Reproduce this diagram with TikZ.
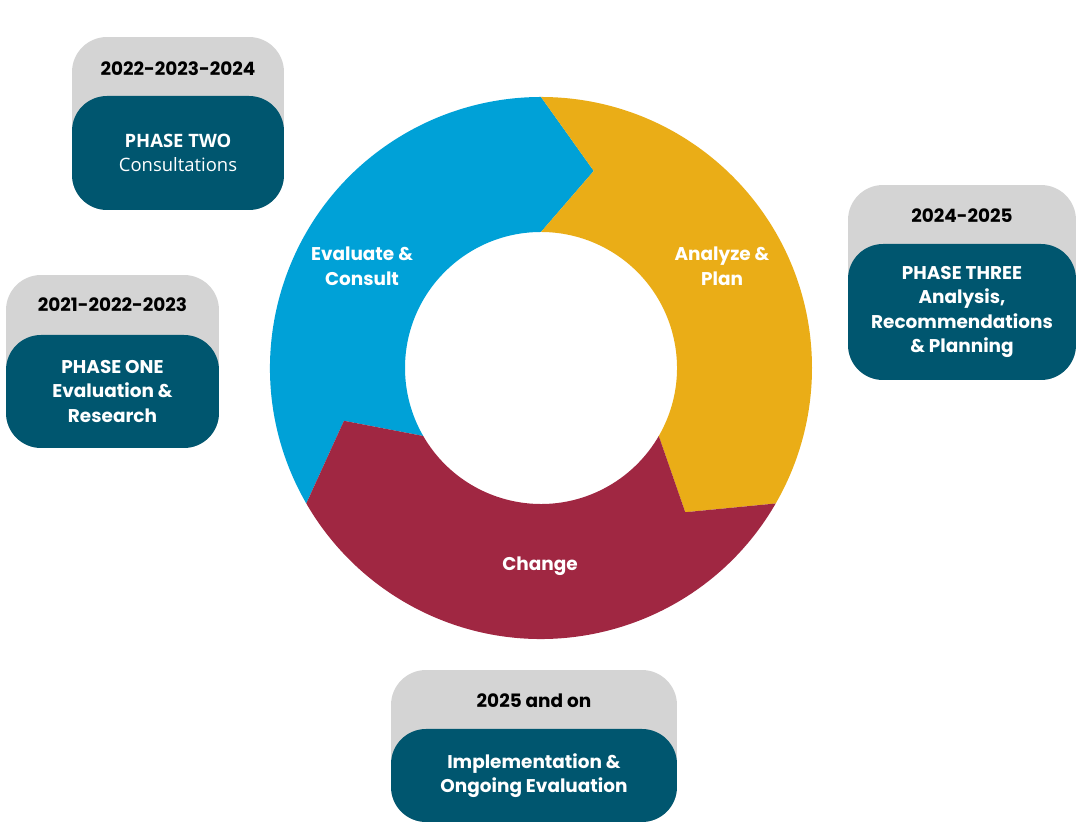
\documentclass[tikz,border=0pt]{standalone}
\usepackage{fontspec}
\setmainfont{Poppins}
\newfontfamily\opensans{Open Sans}
\usetikzlibrary{positioning}
\definecolor{ringblue}{HTML}{00A1D7}
\definecolor{ringgold}{HTML}{EAAD17}
\definecolor{ringred}{HTML}{A02742}
\definecolor{phaseteal}{HTML}{00566F}
\definecolor{yeargrey}{HTML}{D4D4D4}
\newcommand\ringpart[3]{%
  \fill[#1] (#3:271) arc[start angle=#3,end angle=#2,radius=271]
    -- (#2-15:204) -- (#2:136) arc[start angle=#2,end angle=#3,radius=136]
    -- (#3-15:204) -- cycle;}
\tikzset{
  yearbox/.style={fill=yeargrey, rounded corners=0.7cm, inner sep=0pt},
  phasebox/.style={fill=phaseteal, rounded corners=0.7cm, text=white, align=center,
    font=\fontsize{10.5}{14}\selectfont\bfseries, inner sep=0pt},
  yeartext/.style={font=\fontsize{10.5}{13}\selectfont\bfseries, text=black},
  ringtext/.style={font=\fontsize{10.5}{14}\selectfont\bfseries, text=white, align=center}
}
\begin{document}
\begin{tikzpicture}[x=0.02cm,y=0.02cm]
    \useasboundingbox (0,0) rectangle (1080,834);

    % ring
    \begin{scope}[shift={(541,466)}]
      \ringpart{ringblue}{90}{210}
      \ringpart{ringgold}{-30}{90}
      \ringpart{ringred}{-150}{-30}
    \end{scope}
    \node[ringtext] (eval)   at (362,568) {Evaluate \&\\Consult};
    \node[ringtext] (plan)   at (722,568) {Analyze \&\\Plan};
    \node[ringtext] (change) at (540,268) {Change};

    % phase two
    \node[yearbox, minimum width=4.24cm, minimum height=3.46cm] (g2) at (178,710.5) {};
    \node[phasebox, minimum width=4.24cm, minimum height=2.28cm] (p2) at (178,681)
      {\opensans\bfseries PHASE TWO\\\opensans\mdseries Consultations};
    \node[yeartext] (y2) at (178,765) {2022-2023-2024};

    % phase one
    \node[yearbox, minimum width=4.26cm, minimum height=3.46cm] (g1) at (112.5,472.5) {};
    \node[phasebox, minimum width=4.26cm, minimum height=2.26cm] (p1) at (112.5,442.5)
      {PHASE ONE\\Evaluation \&\\Research};
    \node[yeartext] (y1) at (112.5,529) {2021-2022-2023};

    % phase three
    \node[yearbox, minimum width=4.56cm, minimum height=3.9cm] (g3) at (962,551.5) {};
    \node[phasebox, minimum width=4.56cm, minimum height=2.72cm] (p3) at (962,522)
      {PHASE THREE\\Analysis,\\Recommendations\\\& Planning};
    \node[yeartext] (y3) at (962,618) {2024-2025};

    % implementation
    \node[yearbox, minimum width=5.72cm, minimum height=3.04cm] (g4) at (534,88) {};
    \node[phasebox, minimum width=5.72cm, minimum height=1.86cm] (p4) at (534,58.5)
      {Implementation \&\\Ongoing Evaluation};
    \node[yeartext] (y4) at (534,133) {2025 and on};
\end{tikzpicture}
\end{document}
